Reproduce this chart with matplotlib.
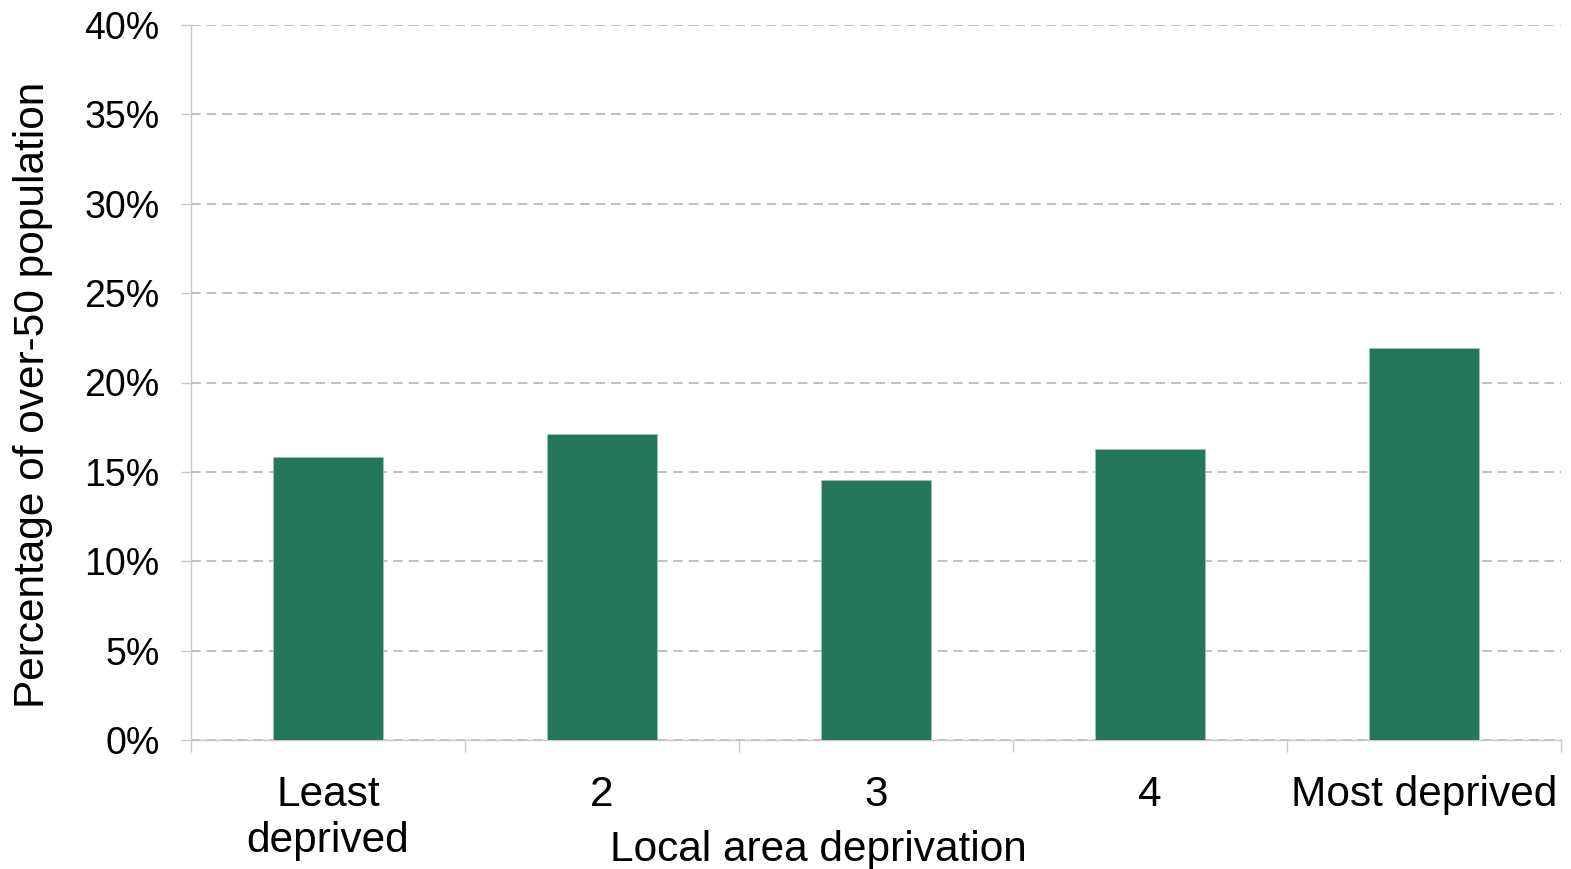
import numpy as np
import matplotlib
matplotlib.use("Agg")
import matplotlib.pyplot as plt
from matplotlib.ticker import FuncFormatter

plt.rcParams['font.family'] = ['Liberation Sans', 'DejaVu Sans']

# share of over-50s, by local area deprivation quintile
categories = ['Least\ndeprived', '2', '3', '4', 'Most deprived']
share = [15.85, 17.1, 14.55, 16.3, 21.95]
yticks = [0, 5, 10, 15, 20, 25, 30, 35, 40]

bar_colour = '#24775a'
grey = '#c8c8c8'

fig = plt.figure(figsize=(15.71, 8.69), dpi=100)
ax = fig.add_axes([191 / 1571, 1 - 740 / 869, 1370 / 1571, 715 / 869])

x = np.arange(len(categories))
ax.bar(x, share, width=0.4, color=bar_colour, edgecolor='#9fc5b5', linewidth=0.6, zorder=3)

ax.set_xlim(-0.5, len(categories) - 0.5)
ax.set_ylim(0, 40)
ax.set_yticks(yticks)
ax.yaxis.set_major_formatter(FuncFormatter(lambda v, _: f'{v:.0f}%'))
ax.yaxis.grid(True, color='#c0c0c0', linestyle=(0, (5, 3)), linewidth=1.4, zorder=0)

# category labels sit between the tick marks, ticks on the slot boundaries
ax.set_xticks(np.arange(len(categories) + 1) - 0.5)
ax.set_xticklabels([])
ax.set_xticks(x, minor=True)
ax.set_xticklabels(categories, minor=True, fontsize=30.5, linespacing=1.2)
ax.tick_params(axis='x', which='minor', length=0, pad=25)
ax.tick_params(axis='x', which='major', length=8.6, color=grey, width=1)
ax.tick_params(axis='y', length=7.2, color=grey, width=1, labelsize=27, pad=15.5)

for side in ['top', 'right']:
    ax.spines[side].set_visible(False)
for side in ['left', 'bottom']:
    ax.spines[side].set_color(grey)
    ax.spines[side].set_linewidth(1)

fig.text(33 / 1571, 1 - 395 / 869, 'Percentage of over-50 population', rotation=90,
         ha='center', va='center', fontsize=30.5)
fig.text(818 / 1571, 1 - 850 / 869, 'Local area deprivation',
         ha='center', va='center', fontsize=30.5)

fig.savefig('out.png', dpi=100, facecolor='white')
